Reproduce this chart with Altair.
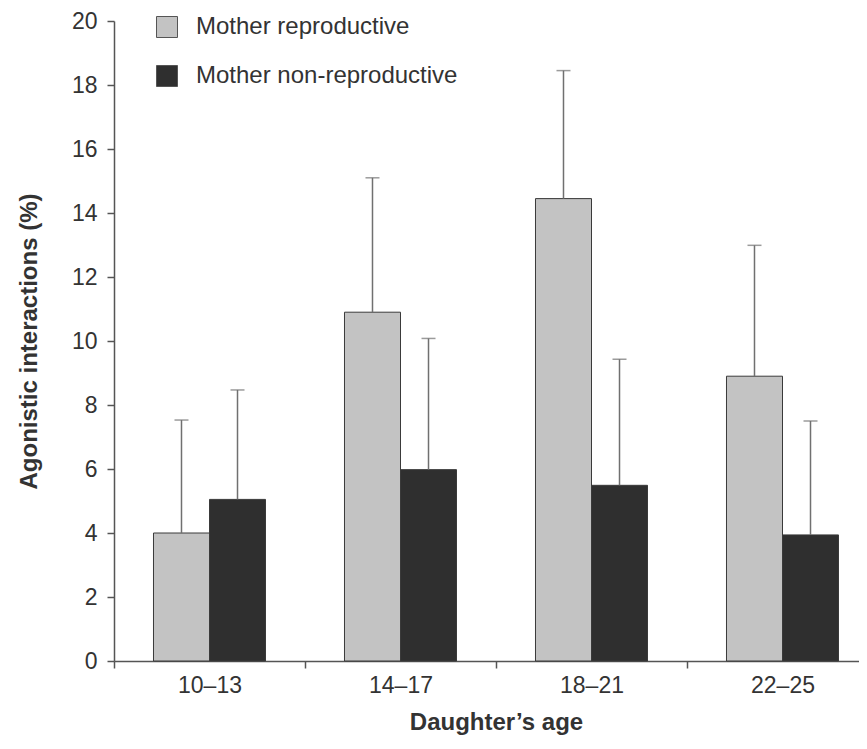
import altair as alt
import pandas as pd

ages = ["10–13", "14–17", "18–21", "22–25"]
groups = ["Mother reproductive", "Mother non-reproductive"]
repro_mean = [4.0, 10.9, 14.45, 8.9]
repro_upper = [7.53, 15.1, 18.45, 12.99]
nonrepro_mean = [5.05, 5.98, 5.49, 3.94]
nonrepro_upper = [8.47, 10.08, 9.43, 7.5]
y_ticks = [0, 2, 4, 6, 8, 10, 12, 14, 16, 18, 20]
bar_colors = ["#c3c3c3", "#2f2f2f"]

rows = []
for i, a in enumerate(ages):
    rows.append({"age": a, "group": groups[0], "mean": repro_mean[i], "upper": repro_upper[i]})
    rows.append({"age": a, "group": groups[1], "mean": nonrepro_mean[i], "upper": nonrepro_upper[i]})
df = pd.DataFrame(rows)

FONT = "Liberation Sans"

xscale = alt.Scale(domain=ages, range=[0, 764], paddingInner=0, paddingOuter=0)
offscale = alt.Scale(domain=groups, paddingInner=0, paddingOuter=0.705)
yscale = alt.Scale(domain=[0, 20], nice=False)

x_enc = alt.X("age:N", scale=xscale, sort=ages,
              axis=alt.Axis(title="Daughter’s age", tickBand="extent", labelAngle=0,
                            tickSize=7, labelPadding=6, titlePadding=13))
xo_enc = alt.XOffset("group:N", scale=offscale, sort=groups)

bars = alt.Chart(df).mark_bar(stroke="#3a3a3a", strokeWidth=1).encode(
    x=x_enc,
    xOffset=xo_enc,
    y=alt.Y("mean:Q", scale=yscale,
            axis=alt.Axis(title="Agonistic interactions (%)", values=y_ticks,
                          tickSize=7, labelPadding=10, titlePadding=30)),
    color=alt.Color("group:N", sort=groups,
                    scale=alt.Scale(domain=groups, range=bar_colors),
                    legend=alt.Legend(title=None, orient="none", legendX=41, legendY=-6,
                                      symbolType="square", symbolSize=441,
                                      symbolStrokeColor="#555", symbolStrokeWidth=1,
                                      labelFontSize=24, labelFont=FONT, labelColor="#333",
                                      labelLimit=600, labelOffset=17, rowPadding=23,
                                      padding=0)),
)

rules = alt.Chart(df).mark_rule(color="#707070", strokeWidth=1.5).encode(
    x=alt.X("age:N", scale=xscale, sort=ages),
    xOffset=xo_enc,
    y=alt.Y("mean:Q", scale=yscale),
    y2="upper:Q",
)

caps = alt.Chart(df).mark_tick(color="#707070", size=14, thickness=1.5).encode(
    x=alt.X("age:N", scale=xscale, sort=ages),
    xOffset=xo_enc,
    y=alt.Y("upper:Q", scale=yscale),
)

chart = alt.layer(bars, rules, caps).properties(
    width=745, height=640,
    autosize=alt.AutoSizeParams(type="none"),
    padding={"left": 106, "top": 13, "right": 0, "bottom": 75},
).configure_view(stroke=None).configure_axis(
    grid=False,
    domainColor="#555", domainWidth=1.5,
    tickColor="#555", tickWidth=1.5,
    labelFont=FONT, labelFontSize=23, labelColor="#333",
    titleFont=FONT, titleFontSize=24, titleFontWeight="bold", titleColor="#333",
)

chart.save("out.html", embed_options={"renderer": "svg", "actions": False})
